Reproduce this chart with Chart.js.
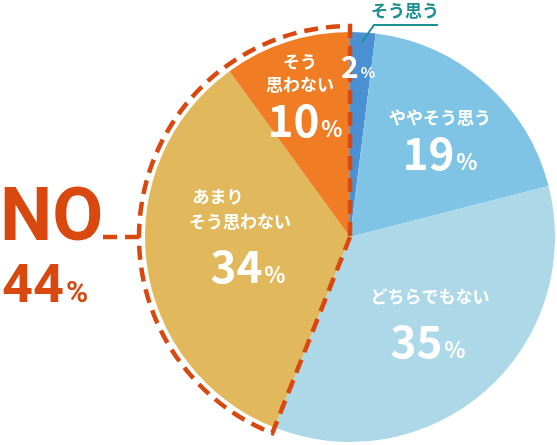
<!DOCTYPE html><html><head><meta charset="utf-8"><script src="https://cdn.jsdelivr.net/npm/chart.js@4"></script>
<style>html,body{margin:0;padding:0;background:#fff}#w{width:557px;height:445px}</style></head><body><div id="w"><canvas id="c"></canvas></div>
<script>
const categories=["そう思う","ややそう思う","どちらでもない","あまりそう思わない","そう思わない"];
const values=[2,19,35,34,10];
const colors=["#4a90d2","#80c4e5","#acd8e8","#e2b85c","#f07c24"];
const F='"Noto Sans CJK JP","Noto Sans",sans-serif';
const labels=[
 null,
 {lines:["ややそう思う"],x:440,y:118,px:440,py:155},
 {lines:["どちらでもない"],x:430,y:297,px:428,py:343},
 {lines:["あまり","そう思わない"],x:240,y:197,px:248,py:268,lh:25},
 {lines:["そう","思わない"],x:300,y:62,px:305,py:122,lh:23}
];
function pct(ctx,v,x,y,big){
 ctx.font='bold '+big+'px '+F;const w1=ctx.measureText(String(v)).width;
 ctx.font='bold '+Math.round(big*0.5)+'px '+F;const w2=ctx.measureText('%').width;
 const sx=x-(w1+w2+2)/2;ctx.textAlign='left';ctx.textBaseline='alphabetic';
 ctx.font='bold '+big+'px '+F;ctx.fillText(String(v),sx,y+big*0.35);
 ctx.font='bold '+Math.round(big*0.5)+'px '+F;ctx.fillText('%',sx+w1+2,y+big*0.35);
}
const deco={id:'deco',afterDatasetsDraw(ch){
 const ctx=ch.ctx;const arcs=ch.getDatasetMeta(0).data;
 const a3=arcs[3],a4=arcs[4];const cx=a3.x,cy=a3.y,R=a3.outerRadius+6;
 ctx.save();
 ctx.strokeStyle='#d9480f';ctx.lineWidth=4.5;ctx.setLineDash([14,8]);ctx.lineCap='butt';
 ctx.beginPath();ctx.moveTo(cx,cy);ctx.lineTo(cx+R*Math.cos(a3.startAngle),cy+R*Math.sin(a3.startAngle));
 ctx.arc(cx,cy,R,a3.startAngle,a4.endAngle);ctx.lineTo(cx,cy);ctx.stroke();
 ctx.beginPath();ctx.moveTo(103,237);ctx.lineTo(cx-R,237);ctx.stroke();
 ctx.setLineDash([]);
 ctx.fillStyle='#fff';
 labels.forEach((l,i)=>{if(!l)return;ctx.font='bold 17px '+F;ctx.textAlign='center';ctx.textBaseline='middle';
  l.lines.forEach((t,j)=>ctx.fillText(t,l.x+(i==3&&j==0?-22:0),l.y+j*(l.lh||0)));
  pct(ctx,values[i],l.px,l.py,44);});
 pct(ctx,values[0],358,67,30);
 ctx.strokeStyle='#1a9090';ctx.lineWidth=2;ctx.beginPath();ctx.moveTo(362,42);ctx.lineTo(374,25);ctx.lineTo(438,25);ctx.stroke();
 ctx.fillStyle='#1a9090';ctx.font='bold 17px '+F;ctx.textAlign='center';ctx.textBaseline='middle';ctx.fillText(categories[0],405,11);
 ctx.fillStyle='#d9480f';ctx.textAlign='left';ctx.textBaseline='alphabetic';
 ctx.font='bold 74px "Roboto",'+F;ctx.fillText('NO',0,240);
 ctx.font='bold 54px "Roboto",'+F;ctx.fillText('44',2,302);const w=ctx.measureText('44').width;ctx.font='bold 30px "Roboto",'+F;ctx.fillText('%',4+w,302);
 ctx.restore();
}};
new Chart(document.getElementById('c'),{type:'pie',data:{labels:categories,datasets:[{data:values,backgroundColor:colors,borderWidth:0}]},
options:{responsive:true,maintainAspectRatio:false,animation:false,layout:{padding:{left:145,right:2,top:32,bottom:3}},
plugins:{legend:{display:false},tooltip:{enabled:false}}},plugins:[deco]});
</script></body></html>
